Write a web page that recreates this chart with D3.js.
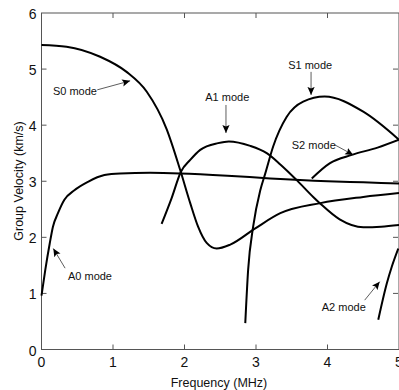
<!DOCTYPE html>
<html lang="en">
<head>
    <meta charset="UTF-8">
    <title>Group velocity dispersion curves</title>
    <script src="https://d3js.org/d3.v7.min.js"></script>
    <style>
        body { margin: 0; background: #fff; }
        svg { display: block; font-family: "Liberation Sans", Arial, sans-serif; }
        .curve { fill: none; stroke: #000; stroke-width: 2; }
        .frame { fill: none; stroke: #555; stroke-width: 1; }
        .tick-label { font-size: 14px; fill: #111; }
        .axis-title { font-size: 12.5px; fill: #111; }
        .mode-label { font-size: 11px; fill: #111; }
        .pointer { stroke: #333; stroke-width: 0.8; }
    </style>
</head>
<body>
    <div id="chart"></div>
    <script type="text/javascript">
        // tick values
        const xTicks = [0, 1, 2, 3, 4, 5];
        const yTicks = [0, 1, 2, 3, 4, 5, 6];

        // modes: frequency (MHz) vs group velocity (km/s)
        const a0Freq = [0, 0.053, 0.115, 0.16, 0.23, 0.32, 0.46, 0.65, 0.88, 1.1, 1.52, 1.94, 2.6, 3.2, 4.0, 4.5, 5.0];
        const a0Vel  = [0.96, 1.42, 1.89, 2.19, 2.43, 2.67, 2.84, 2.99, 3.11, 3.14, 3.15, 3.14, 3.1, 3.05, 3.0, 2.98, 2.96];

        const s0Freq = [0, 0.35, 0.82, 1.19, 1.47, 1.75, 1.94, 2.08, 2.19, 2.31, 2.45, 2.64, 2.99, 3.34, 3.9, 4.5, 5.0];
        const s0Vel  = [5.43, 5.4, 5.22, 4.95, 4.6, 3.93, 3.2, 2.61, 2.19, 1.9, 1.8, 1.87, 2.16, 2.43, 2.61, 2.72, 2.79];

        const a1Freq = [1.68, 1.82, 1.95, 2.08, 2.22, 2.47, 2.62, 2.92, 3.15, 3.34, 3.57, 3.8, 3.9, 4.17, 4.5, 4.75, 5.0];
        const a1Vel  = [2.24, 2.7, 3.17, 3.38, 3.56, 3.68, 3.71, 3.63, 3.5, 3.3, 3.02, 2.72, 2.6, 2.32, 2.18, 2.19, 2.22];

        const s1Freq = [2.85, 2.89, 2.96, 3.06, 3.13, 3.24, 3.43, 3.66, 3.96, 4.5, 5.0];
        const s1Vel  = [0.47, 1.42, 2.19, 2.84, 3.14, 3.62, 4.15, 4.42, 4.51, 4.24, 3.74];

        const s2Freq = [3.78, 4.03, 4.34, 4.7, 5.0];
        const s2Vel  = [3.05, 3.32, 3.47, 3.6, 3.74];

        const a2Freq = [4.71, 4.83, 4.9, 4.99];
        const a2Vel  = [0.53, 1.18, 1.48, 1.8];

        // annotations: text position, then arrow start and end (data units)
        const labels = [
            {text: "S0 mode", f: 0.16, v: 4.61, f1: 0.78, v1: 4.63, f2: 1.24, v2: 4.79},
            {text: "A1 mode", f: 2.29, v: 4.51, f1: 2.58, v1: 4.36, f2: 2.58, v2: 3.86},
            {text: "S1 mode", f: 3.45, v: 5.07, f1: 3.77, v1: 4.95, f2: 3.77, v2: 4.54},
            {text: "S2 mode", f: 3.5,  v: 3.65, f1: 4.1,  v1: 3.65, f2: 4.36, v2: 3.47},
            {text: "A0 mode", f: 0.37, v: 1.31, f1: 0.33, v1: 1.45, f2: 0.165, v2: 1.8},
            {text: "A2 mode", f: 3.92, v: 0.76, f1: 4.52, v1: 0.88, f2: 4.73, v2: 1.21}
        ];

        const modes = [
            [a0Freq, a0Vel], [s0Freq, s0Vel], [a1Freq, a1Vel],
            [s1Freq, s1Vel], [s2Freq, s2Vel], [a2Freq, a2Vel]
        ].map(([f, v]) => f.map((d, i) => ({f: d, v: v[i]})));

        const W = 399, H = 390;
        const margin = {top: 13, right: 0, bottom: 40.5, left: 41.5};

        const x = d3.scaleLinear().domain([0, 5]).range([margin.left, W - margin.right]);
        const y = d3.scaleLinear().domain([0, 6]).range([H - margin.bottom, margin.top]);

        const svg = d3.select("#chart").append("svg")
            .attr("width", W)
            .attr("height", H);

        svg.append("defs").append("marker")
            .attr("id", "head")
            .attr("viewBox", "0 -5 10 10")
            .attr("refX", 10)
            .attr("refY", 0)
            .attr("markerUnits", "userSpaceOnUse")
            .attr("markerWidth", 8)
            .attr("markerHeight", 8)
            .attr("orient", "auto")
            .append("path")
            .attr("d", "M0,-4.5L10,0L0,4.5L2,0Z")
            .attr("fill", "#000");

        // frame
        svg.append("rect")
            .attr("class", "frame")
            .attr("x", x(0))
            .attr("y", y(6))
            .attr("width", x(5) - x(0))
            .attr("height", y(0) - y(6));

        // inward ticks on all four sides
        const tl = 5;
        xTicks.slice(1, -1).forEach(t => {
            svg.append("line").attr("class", "frame")
                .attr("x1", x(t)).attr("x2", x(t)).attr("y1", y(0)).attr("y2", y(0) - tl);
            svg.append("line").attr("class", "frame")
                .attr("x1", x(t)).attr("x2", x(t)).attr("y1", y(6)).attr("y2", y(6) + tl);
        });
        yTicks.slice(1, -1).forEach(t => {
            svg.append("line").attr("class", "frame")
                .attr("x1", x(0)).attr("x2", x(0) + tl).attr("y1", y(t)).attr("y2", y(t));
            svg.append("line").attr("class", "frame")
                .attr("x1", x(5) - 1).attr("x2", x(5) - 1 - tl).attr("y1", y(t)).attr("y2", y(t));
        });

        svg.selectAll(".xlab")
            .data(xTicks)
            .join("text")
            .attr("class", "tick-label")
            .attr("x", d => x(d))
            .attr("y", y(0) + 17)
            .attr("text-anchor", "middle")
            .text(d => d);

        svg.selectAll(".ylab")
            .data(yTicks)
            .join("text")
            .attr("class", "tick-label")
            .attr("x", x(0) - 5)
            .attr("y", d => y(d) + 6)
            .attr("text-anchor", "end")
            .text(d => d);

        svg.append("text")
            .attr("class", "axis-title")
            .attr("x", 219)
            .attr("y", 387)
            .attr("text-anchor", "middle")
            .text("Frequency (MHz)");

        svg.append("text")
            .attr("class", "axis-title")
            .attr("transform", "translate(23,181) rotate(-90)")
            .attr("text-anchor", "middle")
            .text("Group Velocity (km/s)");

        const line = d3.line()
            .x(d => x(d.f))
            .y(d => y(d.v))
            .curve(d3.curveMonotoneX);

        svg.selectAll(".curve")
            .data(modes)
            .join("path")
            .attr("class", "curve")
            .attr("d", line);

        // mode labels with pointer arrows
        svg.selectAll(".mode-label")
            .data(labels)
            .join("text")
            .attr("class", "mode-label")
            .attr("x", d => x(d.f))
            .attr("y", d => y(d.v) + 4)
            .text(d => d.text);

        svg.selectAll(".pointer")
            .data(labels)
            .join("line")
            .attr("class", "pointer")
            .attr("x1", d => x(d.f1))
            .attr("y1", d => y(d.v1))
            .attr("x2", d => x(d.f2))
            .attr("y2", d => y(d.v2))
            .attr("marker-end", "url(#head)");
    </script>
</body>
</html>
